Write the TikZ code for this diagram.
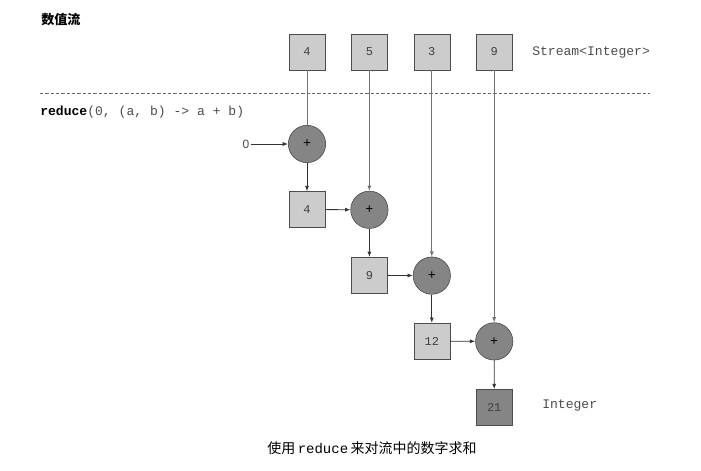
\documentclass[tikz,border=0pt]{standalone}
\usepackage{fontspec}
\setmainfont{Liberation Sans}
\setmonofont{Liberation Mono}
\newfontfamily\cjk{Noto Sans CJK SC}
\usetikzlibrary{arrows.meta, positioning}

\begin{document}
\begin{tikzpicture}[
    x=0.75pt, y=-0.75pt,
    val/.style={draw=black!70, fill=black!20, minimum size=27pt, inner sep=0pt, text=black!75, font=\ttfamily\fontsize{9}{10}\selectfont},
    res/.style={val, fill=black!48},
    sum/.style={circle, draw=black!75, fill=black!48, minimum size=28pt, inner sep=0pt, font=\ttfamily\fontsize{10}{10}\selectfont},
    code/.style={anchor=west, inner sep=0pt, text=black!70, font=\ttfamily\fontsize{9.8}{12}\selectfont},
    feed/.style={draw=black!55, line width=0.7pt},
    arrow/.style={-{Latex[length=4pt,width=3pt]}, draw=black!80, line width=0.6pt}
]
    \useasboundingbox (0,0) rectangle (701,471);

    % stream elements and adders
    \foreach \v [count=\i] in {4,5,3,9} {
        \node[val] (s\i) at ({307+62.4*(\i-1)},52) {\v};
        \node[sum] (p\i) at ({307+62.4*(\i-1)},{144+65.8*(\i-1)}) {+};
    }
    \node[val] (a1) at (307,209.5) {4};
    \node[val] (a2) at (369.4,275.3) {9};
    \node[val] (a3) at (431.8,341.1) {12};
    \node[res] (total) at (494.2,407.5) {21};

    \node[inner sep=1pt, font=\fontsize{9}{10}\selectfont, text=black!70] (zero) at (246,144) {0};

    % labels
    \node[anchor=west, inner sep=0pt, font=\cjk\bfseries\fontsize{9.8}{12}\selectfont] (title) at (41,20) {数值流};
    \node[code] (stream) at (532,52) {Stream<Integer>};
    \node[code] (op) at (40,112) {\textbf{\color{black}reduce}(0, (a, b) -> a + b)};
    \node[code] (out) at (542,405) {Integer};
    \node[inner sep=0pt, font=\fontsize{10.5}{12}\selectfont] (caption) at (372,448)
        {{\cjk 使用}\,\texttt{reduce}\,{\cjk 来对流中的数字求和}};

    \draw[dashed, dash pattern=on 2.5pt off 1.5pt, black!60] (40,93) -- (650,93);

    \draw[feed] (s1) -- (p1);
    \foreach \i in {2,3,4}
        \draw[feed, arrow, draw=black!55] (s\i) -- (p\i);

    \draw[arrow] (zero) -- (p1);
    \draw[arrow] (p1) -- (a1);
    \draw[arrow] (a1) -- (p2);
    \draw[arrow] (p2) -- (a2);
    \draw[arrow] (a2) -- (p3);
    \draw[arrow] (p3) -- (a3);
    \draw[arrow] (a3) -- (p4);
    \draw[arrow] (p4) -- (total);
\end{tikzpicture}
\end{document}
